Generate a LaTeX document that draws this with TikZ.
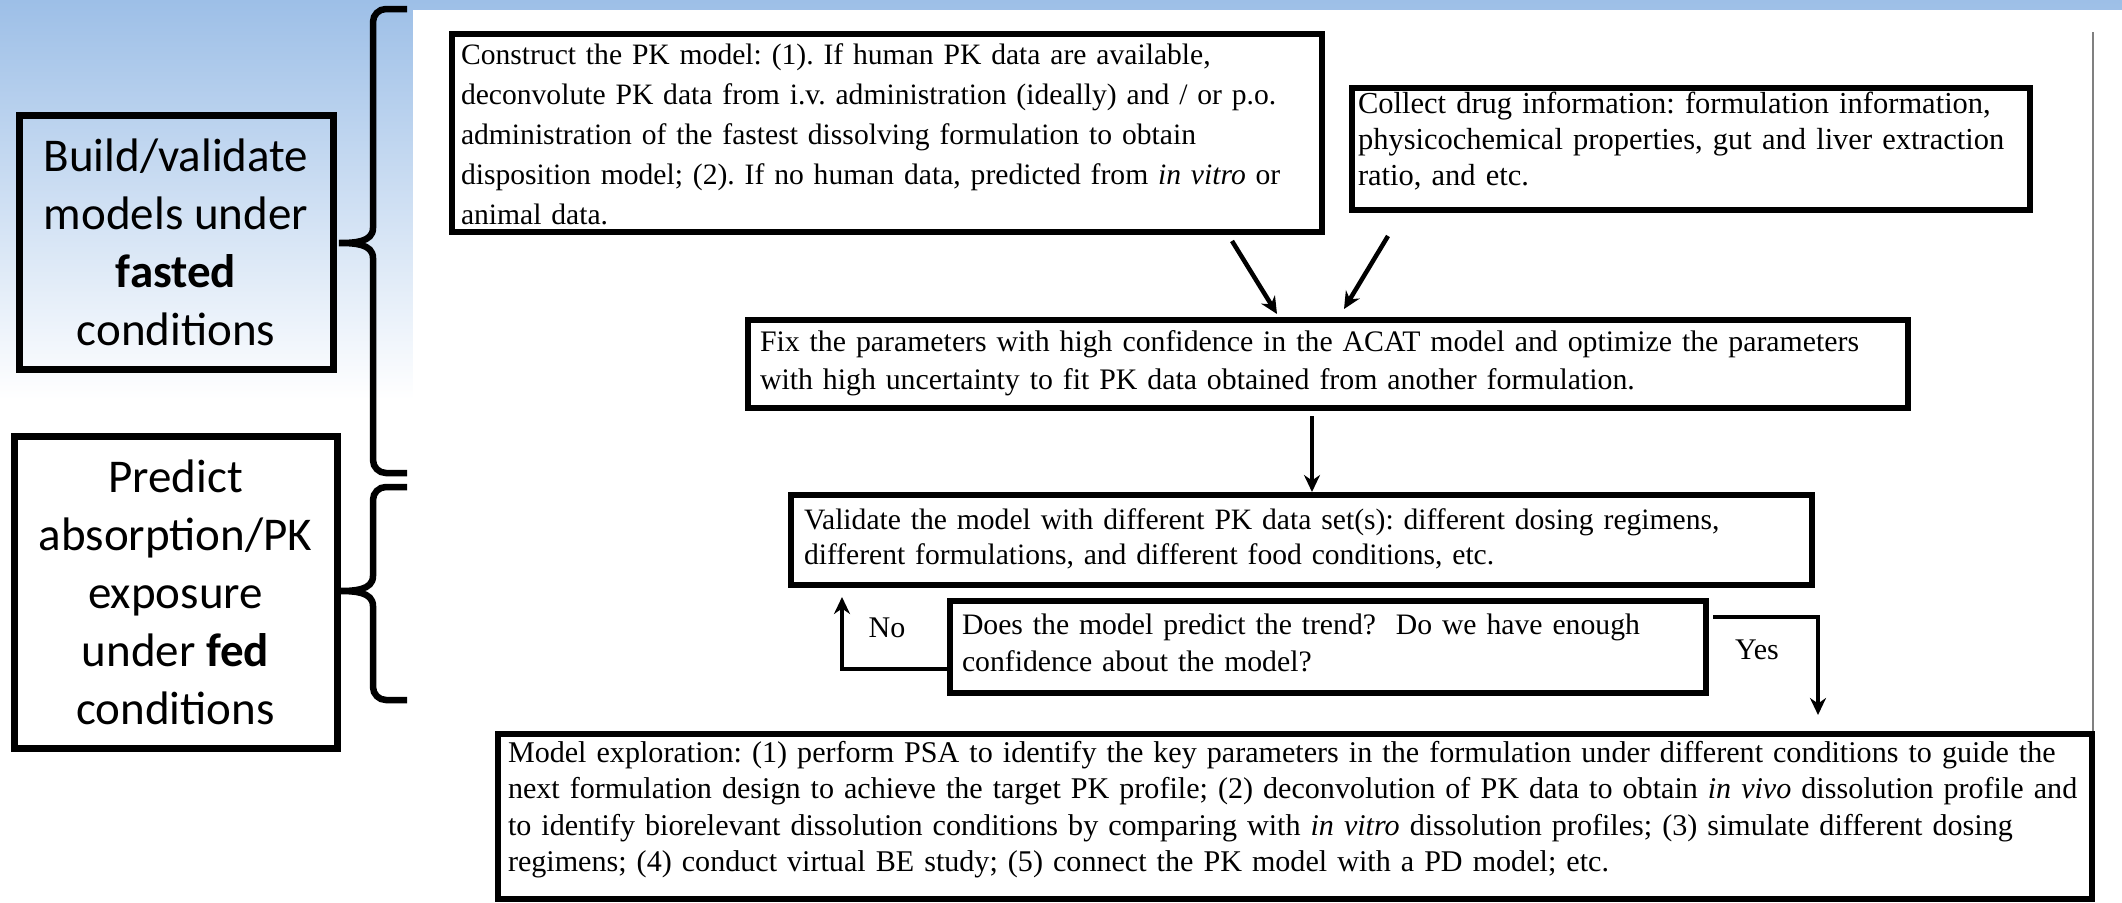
\documentclass[tikz,border=0pt]{standalone}
\usepackage{fontspec}
\setmainfont{Carlito}
\newfontfamily\paperfont{Liberation Serif}
\usepackage{tikz}
\usetikzlibrary{positioning,arrows.meta,calc}

\definecolor{slideblue}{RGB}{157,191,231}
\frenchspacing

\begin{document}
\begin{tikzpicture}[x=1pt, y=-1pt, >={Stealth[length=17pt,width=16pt]}]
  \useasboundingbox (0,0) rectangle (2122,902);

  % slide background and the pasted flow chart panel
  \fill[white] (0,0) rectangle (2122,902);
  \shade[top color=slideblue, bottom color=white] (0,0) rectangle (2122,400);
  \fill[white] (413,10) rectangle (2122,902);
  \draw[gray, line width=1.5pt] (2093,32) -- (2093,734);

  \tikzset{side/.style={draw, line width=7pt, align=center, inner sep=0pt, font=\fontsize{47}{58}\selectfont}}
  \tikzset{stepbox/.style={draw, line width=5.5pt, anchor=north west, align=left, outer sep=0pt, inner ysep=0pt, inner xsep=12pt}}
  \tikzset{paper/.style 2 args={font=\paperfont\fontsize{#1}{#2}\selectfont}}
  \tikzset{brace_line/.style={line width=6.5pt}}
  \tikzset{flow/.style={line width=4.5pt, ->}}

  \node[side, minimum width=314pt, minimum height=254pt] (fasted) at (176,242)
    {Build/validate\\models under\\\textbf{fasted}\\conditions};
  \node[side, minimum width=323pt, minimum height=312pt] (fed) at (175.5,592)
    {Predict\\absorption/PK\\exposure\\under \textbf{fed}\\conditions};

  \draw[brace_line] (407,9) -- (386,9) to[out=180,in=90] (373,22) -- (373,228)
    to[out=270,in=0] (339,243) to[out=0,in=90] (373,258) -- (373,460)
    to[out=270,in=180] (386,473) -- (407,473);
  \draw[brace_line] (407,487) -- (386,487) to[out=180,in=90] (373,500) -- (373,576)
    to[out=270,in=0] (339,591) to[out=0,in=90] (373,606) -- (373,687)
    to[out=270,in=180] (386,700) -- (407,700);

  \node[stepbox, paper={29.6}{40}, inner xsep=9pt, text width=852pt, text height=30pt, text depth=168pt] (pk) at (452,34)
    {Construct the PK model: (1). If human PK data are available,\\
     deconvolute PK data from i.v. administration (ideally) and / or p.o.\\
     administration of the fastest dissolving formulation to obtain\\
     disposition model; (2). If no human data, predicted from \textit{in vitro} or\\
     animal data.};
  \node[stepbox, paper={30.5}{36}, inner xsep=6pt, text width=666pt, text height=25pt, text depth=97pt] (drug) at (1352,88)
    {Collect drug information: formulation information,\\
     physicochemical properties, gut and liver extraction\\
     ratio, and etc.};
  \node[stepbox, paper={29.8}{38}, text width=1136pt, text height=31pt, text depth=57pt] (fix) at (748,320)
    {Fix the parameters with high confidence in the ACAT model and optimize the parameters\\
     with high uncertainty to fit PK data obtained from another formulation.};
  \node[stepbox, paper={29.6}{35}, inner xsep=13pt, text width=995pt, text height=34pt, text depth=56pt] (valid) at (791,495)
    {Validate the model with different PK data set(s): different dosing regimens,\\
     different formulations, and different food conditions, etc.};
  \node[stepbox, paper={29.7}{37}, text width=732pt, text height=33pt, text depth=59pt] (trend) at (950,601)
    {Does the model predict the trend?\ \ Do we have enough\\
     confidence about the model?};
  \node[stepbox, paper={30.1}{36.5}, inner xsep=10pt, text width=1574pt, text height=28pt, text depth=137pt] (explore) at (498,734)
    {Model exploration: (1) perform PSA to identify the key parameters in the formulation under different conditions to guide the\\
     next formulation design to achieve the target PK profile; (2) deconvolution of PK data to obtain \textit{in vivo} dissolution profile and\\
     to identify biorelevant dissolution conditions by comparing with \textit{in vitro} dissolution profiles; (3) simulate different dosing\\
     regimens; (4) conduct virtual BE study; (5) connect the PK model with a PD model; etc.};

  \node[paper={30}{36}] (no) at (887,628) {No};
  \node[paper={30}{36}] (yes) at (1757,650) {Yes};

  \draw[flow] ([xshift=345pt,yshift=-9pt]pk.south) -- ([xshift=-51pt,yshift=6pt]fix.north);
  \draw[flow] ([xshift=-303pt,yshift=-26pt]drug.south) -- ([xshift=16pt,yshift=11pt]fix.north);
  \draw[flow] ([xshift=-16pt,yshift=-8pt]fix.south) -- ([xshift=10.5pt,yshift=3pt]valid.north);
  \draw[flow] ([yshift=-22pt]trend.west) -| ([xshift=51pt,yshift=-12pt]valid.south west);
  \draw[flow] ([xshift=7pt,yshift=30pt]trend.east) -| ([xshift=523pt,yshift=19pt]explore.north);
\end{tikzpicture}
\end{document}
